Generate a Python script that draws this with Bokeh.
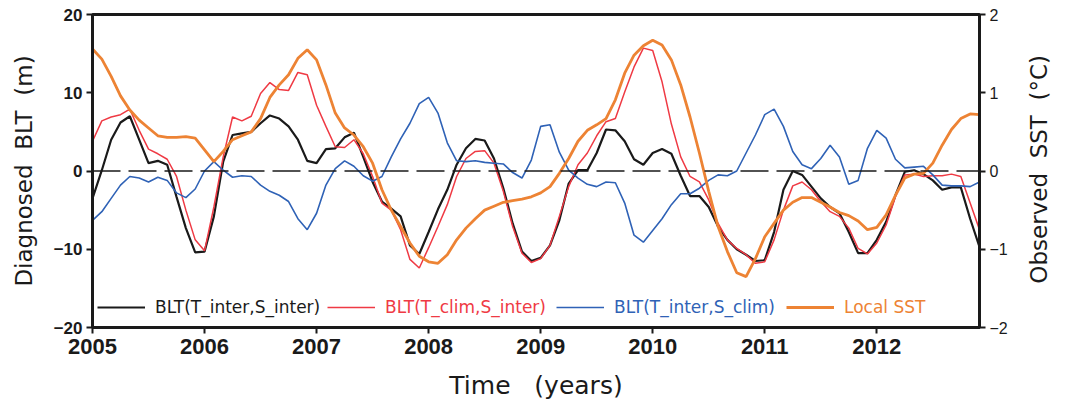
import math
import numpy as np
from bokeh.plotting import figure
from bokeh.models import (Range1d, LinearAxis, FixedTicker, Span, Legend, LegendItem)
from bokeh.embed import file_html
from bokeh.resources import INLINE

# ---------------- data (monthly, Jan 2005 - Dec 2012) ----------------
start_year = 2005
n_months = 96
years = [start_year + m / 12 for m in range(n_months)]

blt_t_inter_s_inter = [
    -3.5, 0.1, 4.0, 6.2, 7.0, 4.0, 1.0, 1.3, 0.8, -3.3, -7.3, -10.4,
    -10.3, -5.8, 1.2, 4.6, 4.8, 5.0, 6.1, 7.1, 6.7, 5.7, 4.0, 1.3,
    1.0, 2.8, 2.9, 4.3, 4.9, 1.8, -1.4, -3.9, -4.8, -5.8, -9.5, -10.6,
    -7.8, -4.9, -2.4, 0.8, 2.9, 4.1, 3.9, 1.6, -2.2, -6.7, -10.3, -11.5,
    -11.1, -9.5, -6.3, -1.6, 0.1, 0.1, 2.3, 5.3, 5.2, 3.8, 1.5, 0.8,
    2.3, 2.8, 2.2, -0.6, -3.2, -3.2, -4.6, -7.1, -8.8, -10.0, -10.7, -11.5,
    -11.4, -7.8, -2.4, 0.0, -0.5, -2.0, -3.5, -4.6, -5.4, -7.8, -10.5, -10.5,
    -8.8, -6.5, -3.1, -0.1, 0.1, -0.4, -1.2, -2.4, -2.1, -2.1, -6.1, -9.7,
]
blt_t_clim_s_inter = [
    3.8, 6.4, 6.9, 7.2, 7.9, 5.2, 2.8, 2.2, 1.5, -0.7, -5.0, -8.8,
    -10.2, -4.6, 1.8, 6.9, 6.4, 7.0, 9.9, 11.3, 10.4, 10.3, 12.6, 12.3,
    8.4, 5.7, 3.1, 3.0, 4.0, 2.2, -0.7, -4.1, -5.0, -7.5, -11.3, -12.4,
    -9.8, -7.1, -4.3, -0.7, 1.6, 2.5, 2.6, 1.0, -2.6, -7.1, -10.5, -11.7,
    -11.2, -9.5, -5.8, -2.0, 0.8, 2.3, 4.5, 6.3, 6.7, 10.1, 13.3, 15.7,
    15.4, 11.4, 6.0, 1.8, -0.7, -1.4, -3.7, -6.7, -8.8, -9.9, -10.7, -11.8,
    -11.6, -8.8, -5.0, -1.9, -1.4, -2.4, -3.9, -5.2, -5.8, -7.3, -9.9, -10.6,
    -9.2, -6.9, -3.3, -0.5, -0.4, -0.7, -0.6, -0.6, -0.4, -0.7, -4.1, -7.5,
]
blt_t_inter_s_clim = [
    -6.3, -5.2, -3.5, -1.8, -0.7, -0.9, -1.4, -0.8, -1.2, -2.8, -3.4, -2.3,
    0.0, 1.2, 0.1, -0.8, -0.6, -0.7, -1.8, -2.6, -3.1, -3.9, -6.1, -7.5,
    -5.4, -1.8, 0.3, 1.3, 0.6, -0.6, -1.3, -0.7, 1.8, 4.1, 6.1, 8.6,
    9.4, 7.4, 3.6, 1.3, 1.2, 1.3, 1.1, 1.0, 0.9, -0.2, -0.9, 1.4,
    5.7, 5.9, 2.4, 0.1, -0.9, -1.7, -2.0, -1.4, -1.5, -4.1, -8.2, -9.1,
    -7.6, -6.1, -4.3, -2.9, -2.9, -2.2, -1.2, -0.5, -0.6, 0.0, 2.3, 4.6,
    7.2, 7.9, 5.7, 2.5, 0.8, 0.3, 1.6, 3.3, 1.8, -1.7, -1.2, 2.9,
    5.2, 4.2, 1.5, 0.4, 0.5, 0.6, -0.5, -1.8, -1.9, -1.9, -2.0, -1.4,
]
local_sst = [  # degC (right axis)
    1.56, 1.43, 1.21, 0.96, 0.78, 0.65, 0.55, 0.45, 0.43, 0.43, 0.44, 0.42,
    0.27, 0.12, 0.25, 0.40, 0.45, 0.50, 0.67, 0.94, 1.10, 1.23, 1.44, 1.55,
    1.42, 1.10, 0.74, 0.55, 0.46, 0.31, 0.10, -0.24, -0.50, -0.71, -0.92, -1.09,
    -1.16, -1.18, -1.07, -0.88, -0.73, -0.61, -0.50, -0.45, -0.40, -0.38, -0.36, -0.33,
    -0.28, -0.20, -0.03, 0.16, 0.38, 0.52, 0.59, 0.67, 0.91, 1.25, 1.48, 1.60,
    1.67, 1.61, 1.42, 1.10, 0.69, 0.23, -0.26, -0.71, -1.03, -1.30, -1.35, -1.12,
    -0.84, -0.67, -0.50, -0.40, -0.34, -0.34, -0.40, -0.46, -0.53, -0.57, -0.64, -0.75,
    -0.72, -0.56, -0.31, -0.09, -0.04, -0.03, 0.10, 0.33, 0.53, 0.67, 0.73, 0.72,
]
year_ticks = [2005, 2006, 2007, 2008, 2009, 2010, 2011, 2012]
blt_ticks = [-20, -10, 0, 10, 20]
sst_ticks = [-2, -1, 0, 1, 2]

series_names = ["BLT(T_inter,S_inter)", "BLT(T_clim,S_inter)",
                "BLT(T_inter,S_clim)", "Local SST"]
colors = ["#1a1a1a", "#ef3a44", "#2f62b6", "#ed8334"]

NB = "\u00a0"  # non-breaking space keeps the wide word gaps in SVG text

# ---------------- figure ----------------
TICK_FONT = "Liberation Sans"
TITLE_FONT = "DejaVu Sans"

p = figure(width=1068, height=412, output_backend="svg", toolbar_location=None,
           x_range=Range1d(years[0], years[-1]), y_range=Range1d(-20, 20),
           min_border_left=92, min_border_right=89, min_border_top=14,
           min_border_bottom=85)
p.background_fill_color = "white"
p.border_fill_color = "white"
p.grid.visible = False
p.outline_line_color = "#1a1a1a"
p.outline_line_width = 3

p.extra_y_ranges = {"sst": Range1d(-2, 2)}

def minus(v):
    return ("\u2212" + str(abs(v))) if v < 0 else str(v)

# bottom axis
xa = p.xaxis[0]
xa.ticker = FixedTicker(ticks=year_ticks)
xa.axis_label = "Time" + NB * 3 + "(years)"
xa.axis_label_text_font = TITLE_FONT
xa.axis_label_text_font_size = "25px"
xa.axis_label_text_font_style = "normal"
xa.axis_label_text_color = "#1a1a1a"
xa.axis_label_standoff = 14
xa.major_label_text_font = TICK_FONT
xa.major_label_text_font_size = "22px"
xa.major_label_text_font_style = "bold"
xa.major_label_text_color = "#1a1a1a"
xa.major_label_standoff = 5

# left axis
ya = p.yaxis[0]
ya.ticker = FixedTicker(ticks=blt_ticks)
ya.major_label_overrides = {v: minus(v) for v in blt_ticks}
ya.axis_label = "Diagnosed" + NB * 2 + "BLT" + NB * 2 + "(m)"
ya.axis_label_text_font = TITLE_FONT
ya.axis_label_text_font_size = "23px"
ya.axis_label_text_font_style = "normal"
ya.axis_label_text_color = "#1a1a1a"
ya.axis_label_standoff = 14
ya.major_label_text_font = TICK_FONT
ya.major_label_text_font_size = "17px"
ya.major_label_text_font_style = "bold"
ya.major_label_text_color = "#1a1a1a"
ya.major_label_standoff = 4

# right axis: label rotated to read bottom-to-top, anchored at the axis start
ra = LinearAxis(y_range_name="sst", ticker=FixedTicker(ticks=sst_ticks))
ra.major_label_overrides = {v: minus(v) for v in sst_ticks}
ra.axis_label = NB * 6 + "Observed" + NB * 2 + "SST" + NB * 2 + "(\u00b0C)"
ra.axis_label_text_font = TITLE_FONT
ra.axis_label_text_font_size = "23px"
ra.axis_label_text_font_style = "normal"
ra.axis_label_text_color = "#1a1a1a"
ra.axis_label_standoff = 28
ra.axis_label_orientation = math.pi / 2
try:
    ra.axis_label_align = "start"
except Exception as e:
    print("no axis_label_align:", e)
ra.major_label_text_font = TICK_FONT
ra.major_label_text_font_size = "16px"
ra.major_label_text_font_style = "normal"
ra.major_label_text_color = "#1a1a1a"
ra.major_label_standoff = 4
p.add_layout(ra, "right")

for ax in (xa, ya, ra):
    ax.axis_line_width = 3
    ax.axis_line_color = "#1a1a1a"
    ax.major_tick_out = 6
    ax.major_tick_in = 0
    ax.major_tick_line_width = 2
    ax.major_tick_line_color = "#1a1a1a"
    ax.minor_tick_line_color = None

# zero line
p.add_layout(Span(location=0, dimension="width", line_color="#1a1a1a",
                  line_width=1.3, line_dash="28 8"))

# series
r1 = p.line(years, blt_t_inter_s_inter, line_color=colors[0], line_width=2.2)
r2 = p.line(years, blt_t_clim_s_inter, line_color=colors[1], line_width=1.5)
r3 = p.line(years, blt_t_inter_s_clim, line_color=colors[2], line_width=1.6)
r4 = p.line(years, local_sst, y_range_name="sst", line_color=colors[3], line_width=2.8)

# legends (one per entry so each label keeps its series colour)
leg_x = [5, 235, 464, 694]
for r, name, col, lx in zip([r1, r2, r3, r4], series_names, colors, leg_x):
    lg = Legend(items=[LegendItem(label=name, renderers=[r])],
                location=(lx, 10), orientation="horizontal",
                glyph_width=48, glyph_height=20, label_standoff=10,
                padding=0, margin=0, border_line_color=None,
                background_fill_alpha=0,
                label_text_font=TITLE_FONT, label_text_font_size="17px",
                label_text_color=col)
    p.add_layout(lg, "center")

open("out.html", "w").write(file_html(p, INLINE))
